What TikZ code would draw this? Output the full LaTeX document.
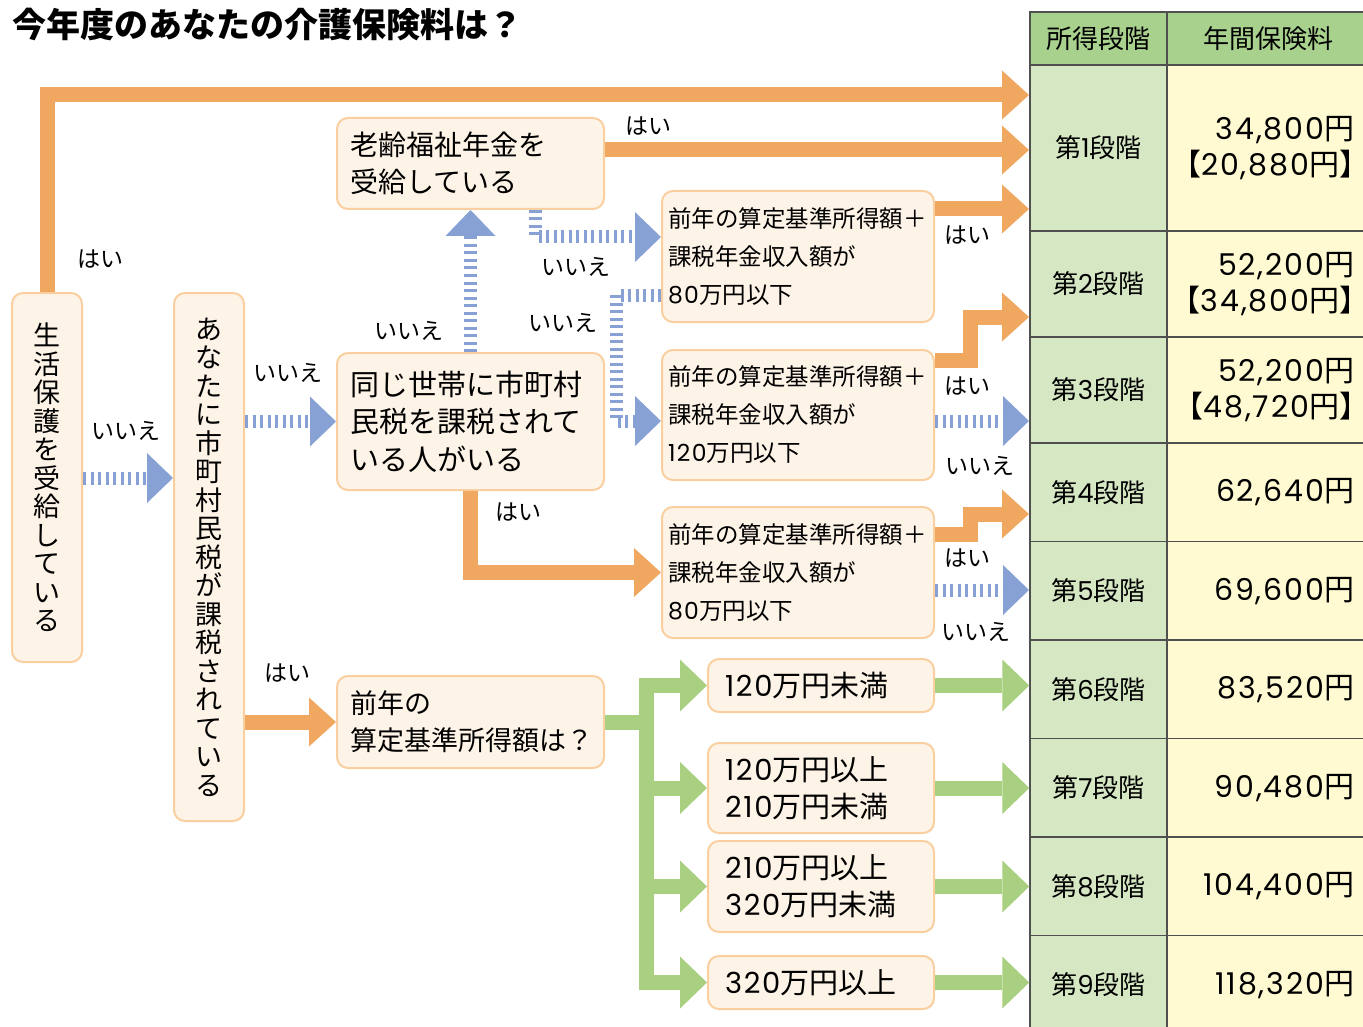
\documentclass[tikz,border=0pt]{standalone}
\usepackage{fontspec}
\setmainfont{Noto Sans CJK JP}
\newfontfamily\numf{Poppins}[LetterSpace=6]
\newfontfamily\brk{Noto Sans CJK JP}[RawFeature=+halt]
\usetikzlibrary{arrows.meta}

\definecolor{orng}{RGB}{240,168,96}
\definecolor{blu}{RGB}{135,161,212}
\definecolor{grn}{RGB}{168,208,128}
\definecolor{boxfill}{RGB}{254,243,231}
\definecolor{boxline}{RGB}{249,207,160}
\definecolor{headfill}{RGB}{169,209,142}
\definecolor{stagefill}{RGB}{214,231,196}
\definecolor{feefill}{RGB}{255,250,210}
\definecolor{rulegray}{RGB}{80,80,80}

\begin{document}
\begin{tikzpicture}[x=1pt,y=-1pt,
  box/.style={draw=boxline, fill=boxfill, line width=2pt, rounded corners=11pt, inner ysep=0pt},
  qbox/.style={box, align=left, text width=241pt, inner xsep=13pt, font=\fontsize{28}{37}\selectfont},
  sbox/.style={box, align=left, text width=260pt, inner xsep=6pt, font=\fontsize{23.5}{38}\selectfont},
  vbox/.style={box, align=center, inner xsep=0pt, minimum width=70pt, font=\fontsize{27}{28.5}\selectfont},
  gbox/.style={box, align=left, text width=192pt, inner xsep=17pt, font=\fontsize{29}{37}\selectfont},
  lab/.style={inner sep=0pt, font=\fontsize{23}{23}\selectfont},
  yes/.style={draw=orng, line width=15pt, -{Triangle[length=27pt 0 0, width=49pt 0 0, line width=0pt 0 0]}},
  no/.style={draw=blu, line width=13pt, dash pattern=on 3pt off 4.5pt, -{Triangle[length=26pt 0 0, width=50pt 0 0, line width=0pt 0 0]}},
  grnarrow/.style={draw=grn, line width=15pt, -{Triangle[length=27pt 0 0, width=52pt 0 0, line width=0pt 0 0]}},
  cell/.style={draw=rulegray, line width=1.5pt, inner sep=0pt},
  head/.style={cell, fill=headfill, minimum height=53pt, font=\fontsize{26}{30}\selectfont},
  stage/.style={cell, fill=stagefill, minimum width=137pt, font=\fontsize{26}{30}\selectfont},
  fee/.style={cell, fill=feefill, minimum width=202pt, text width=172pt, align=right, font=\fontsize{30}{36}\selectfont}]

\useasboundingbox (0,0) rectangle (1363,1027);

% title
\node[anchor=west, inner sep=0pt, font=\fontsize{34}{34}\selectfont\bfseries] (title) at (12,25) {今年度のあなたの介護保険料は？};

% the table on the right
\node[head, minimum width=137pt] (h1) at (1098.5,38.5) {所得段階};
\node[head, minimum width=202pt] (h2) at (1268,38.5) {年間保険料};
\foreach \k/\yc/\h/\fee in {
    1/148/166/{{\numf 34,800}円\\{\brk 【}{\numf 20,880}円{\brk 】}},
    2/284/106/{{\numf 52,200}円\\{\brk 【}{\numf 34,800}円{\brk 】}},
    3/390/106/{{\numf 52,200}円\\{\brk 【}{\numf 48,720}円{\brk 】}},
    4/492.25/98.5/{{\numf 62,640}円},
    5/590.75/98.5/{{\numf 69,600}円},
    6/689.25/98.5/{{\numf 83,520}円},
    7/787.75/98.5/{{\numf 90,480}円},
    8/886.25/98.5/{{\numf 104,400}円},
    9/984.75/98.5/{{\numf 118,320}円}} {
    \node[stage, minimum height=\h pt] (s\k) at (1098.5,\yc) {第{\numf\k}段階};
    \node[fee, minimum height=\h pt] (p\k) at (1268,\yc) {\fee};
}

% the questions
\node[vbox, minimum height=369pt] (A) at (47,477.5) {生\\活\\保\\護\\を\\受\\給\\し\\て\\い\\る};
\node[vbox, minimum height=528pt] (B) at (209,557) {あ\\な\\た\\に\\市\\町\\村\\民\\税\\が\\課\\税\\さ\\れ\\て\\い\\る};
\node[qbox, minimum height=91pt] (C) at (470.5,163.5) {老齢福祉年金を\\受給している};
\node[qbox, minimum height=137pt, font=\fontsize{29}{37.5}\selectfont] (F) at (470.5,421.5) {同じ世帯に市町村\\民税を課税されて\\いる人がいる};
\node[qbox, minimum height=92pt, font=\fontsize{27}{37}\selectfont] (H) at (470.5,722) {前年の\\算定基準所得額は？};
\node[sbox, minimum height=131pt] (D) at (798,256.5) {前年の算定基準所得額＋\\課税年金収入額が\\{\numf 80}万円以下};
\node[sbox, minimum height=130pt] (E) at (798,415) {前年の算定基準所得額＋\\課税年金収入額が\\{\numf 120}万円以下};
\node[sbox, minimum height=131pt] (G) at (798,572.5) {前年の算定基準所得額＋\\課税年金収入額が\\{\numf 80}万円以下};

% income brackets
\foreach \b/\yc/\h/\t in {
    1/685.5/53/{{\numf 120}万円未満},
    2/788/90/{{\numf 120}万円以上\\{\numf 210}万円未満},
    3/886.5/91/{{\numf 210}万円以上\\{\numf 320}万円未満},
    4/982.5/53/{{\numf 320}万円以上}} {
    \node[gbox, minimum height=\h pt] (I\b) at (821,\yc) {\t};
}

% where the arrows enter the table
\coordinate (in0) at (1029,95);
\coordinate (in1) at (1029,150);
\coordinate (in2) at (1029,209);
\coordinate (in3) at (1029,317);
\coordinate (in4) at (1029,421);
\coordinate (in5) at (1029,514);
\coordinate (in6) at (1029,590);

% yes arrows
\draw[yes] (A.north) |- (in0);
\draw[yes] (C.east |- in1) -- (in1);
\draw[yes] (D.east |- in2) -- (in2);
\draw[yes] (E.east |- 0,360) -- ++(35,0) |- (in3);
\draw[yes] (G.east |- 0,534) -- ++(35,0) |- (in5);
\draw[yes] (F.south) |- (G.west);
\draw[yes] (B.east |- H.west) -- (H.west);

% no arrows
\draw[no] (A.east |- 0,478) -- (B.west |- 0,478);
\draw[no] (B.east |- F.west) -- (F.west);
\draw[no] (F.north) -- (C.south);
\draw[no] ([xshift=65pt]C.south) |- (D.west |- 0,237);
\draw[no] (D.west |- 0,295) -- ++(-45,0) |- (E.west |- in4);
\draw[no] (E.east |- in4) -- (in4);
\draw[no] (G.east |- in6) -- (in6);

% green tree
\foreach \b/\r in {1/6,2/7,3/8,4/9} {
    \draw[grnarrow] (H.east) -| ([xshift=-61pt]I\b.west) -- (I\b.west);
    \draw[grnarrow] (I\b.east) -- (s\r.west |- I\b.east);
}

% the labels
\foreach \nm/\p/\t in {y0/{100,259}/はい, n0/{126,431}/いいえ, n1/{288,373}/いいえ,
    y1/{287,673}/はい, n2/{409,331}/いいえ, y2/{648,126}/はい, n3/{576,267}/いいえ,
    n4/{563,323}/いいえ, y3/{518,512}/はい, y4/{967,235}/はい, y5/{967,386}/はい,
    n5/{980,466}/いいえ, y6/{967,558}/はい, n6/{976,632}/いいえ} {
    \node[lab] (\nm) at (\p) {\t};
}
\end{tikzpicture}
\end{document}
